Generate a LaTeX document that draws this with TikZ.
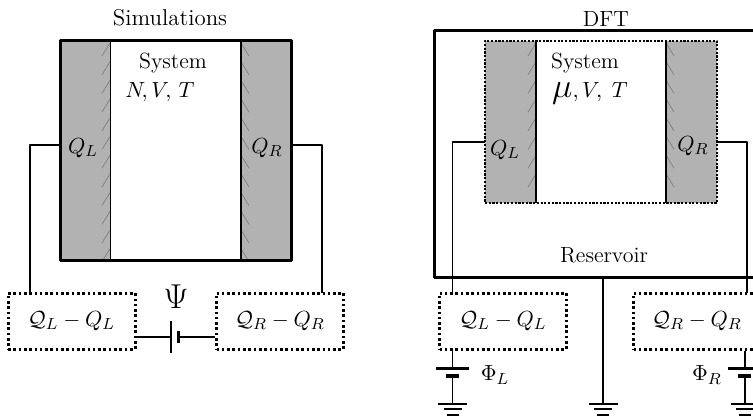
\documentclass[tikz,border=0pt]{standalone}
\tikzset{
	wall/.style={fill=black!30,draw=none},
	hatch/.style={draw=black!50,line width=0.35pt},
	dotbox/.style={draw,line width=1.5pt,dash pattern=on 1.3pt off 1.35pt,minimum width=63.5pt,minimum height=28pt,inner sep=0pt},
	wire/.style={line width=0.6pt},
	plate/.style={line width=1.4pt},
	plainlabel/.style={inner sep=0pt,font=\fontsize{11}{13}\selectfont},
	bigsym/.style={inner sep=0pt,font=\fontsize{17}{19}\selectfont},
}
\begin{document}
\begin{tikzpicture}[x=0.5pt,y=-0.5pt,line join=round]
	\clip (0,0) rectangle (753,416);
	\fill[white] (0,0) rectangle (753,416);
	% left picture
	\fill[wall] (60,41) rectangle (110.5,261);
	\fill[wall] (241,41) rectangle (291,261);
	\foreach \y in {43,61.7,...,250} {
		\draw[hatch] (102,\y+13)--(110,\y);
		\draw[hatch] (241,\y)--(249,\y+13);
	}
	\draw[line width=0.8pt] (110.5,41)--(110.5,261) (241,41)--(241,261);
	\node[draw,line width=1.5pt,minimum width=115.5pt,minimum height=110pt,inner sep=0pt] (simbox) at (175.5,151) {};
	\node[plainlabel,scale=1.04,transform shape] (simtitle) at (170,18) {Simulations};
	\node[plainlabel] (simsystem) at (173,63) {System};
	\node[plainlabel] (simvars) at (160,92) {$N\!,V\!,\,T$};
	\node[plainlabel] (simQL) at (83,148) {$Q_L$};
	\node[plainlabel] (simQR) at (267,148) {$Q_R$};
	\node[dotbox,plainlabel] (simboxL) at (71.5,321) {$\mathcal{Q}_L-Q_L$};
	\node[dotbox,plainlabel] (simboxR) at (280,321) {$\mathcal{Q}_R-Q_R$};
	\node[bigsym] (psi) at (176,297) {$\Psi$};
	\coordinate (portSL) at (60,145);
	\coordinate (portSR) at (291,145);
	\coordinate (tapSL) at (30,293);
	\coordinate (tapSR) at (322,293);
	\coordinate (battA) at (171,337);
	\coordinate (battB) at (178.5,337);
	\draw[wire] (portSL)-|(tapSL);
	\draw[wire] (portSR)-|(tapSR);
	\draw[wire] (simboxL.east |- battA)--(battA);
	\draw[wire] (simboxR.west |- battB)--(battB);
	\draw[plate] (171,321)--(171,353);
	\draw[plate,line width=1.8pt] (178.5,331)--(178.5,343);
	% right picture
	\node[draw,line width=1.5pt,minimum width=200pt,minimum height=123pt,inner sep=0pt] (reservoir) at (634,154) {};
	\fill[wall] (485,41) rectangle (536,203);
	\fill[wall] (666,41) rectangle (717,203);
	\foreach \y in {43,61.7,...,190} {
		\draw[hatch] (528,\y+13)--(536,\y);
		\draw[hatch] (666,\y)--(674,\y+13);
	}
	\draw[line width=0.8pt] (536,41)--(536,203) (666,41)--(666,203);
	\node[draw,line width=1.1pt,dash pattern=on 1.1pt off 0.75pt,minimum width=116pt,minimum height=81pt,inner sep=0pt] (dftbox) at (601,122) {};
	\node[plainlabel] (dfttitle) at (606,19) {DFT};
	\node[plainlabel] (dftsystem) at (585,63) {System};
	\node[plainlabel] (dftvars) at (590,93) {$\mbox{\fontsize{17}{19}\selectfont$\mu$},V\!,\;T$};
	\node[plainlabel] (dftQL) at (505,150) {$Q_L$};
	\node[plainlabel] (dftQR) at (693,146) {$Q_R$};
	\node[plainlabel] (reslabel) at (604,255) {Reservoir};
	\node[dotbox,plainlabel] (dftboxL) at (503,321) {$\mathcal{Q}_L-Q_L$};
	\node[dotbox,plainlabel] (dftboxR) at (697,321) {$\mathcal{Q}_R-Q_R$};
	\node[plainlabel] (phiL) at (495,375) {$\Phi_L$};
	\node[plainlabel] (phiR) at (707,375) {$\Phi_R$};
	\coordinate (portDL) at (485,142);
	\coordinate (portDR) at (717,142);
	\coordinate (tapDL) at (452.5,293);
	\coordinate (tapDR) at (747,293);
	\coordinate (resfoot) at (603,277);
	\coordinate (gndM) at (603,404);
	\coordinate (gndL) at (452.5,404);
	\coordinate (gndR) at (745,404);
	\draw[wire] (portDL)-|(tapDL);
	\draw[wire] (portDR)-|(tapDR);
	\draw[wire] (resfoot)--(gndM);
	\draw[wire] (tapDL |- dftboxL.south)--(452.5,368);
	\draw[wire] (452.5,376)--(gndL);
	\draw[wire] (gndR |- dftboxR.south)--(745,368);
	\draw[wire] (745,376)--(gndR);
	\draw[plate] (436,368.5)--(469,368.5);
	\draw[plate,line width=1.8pt] (446,376)--(459,376);
	\draw[plate] (728,368.5)--(761,368.5);
	\draw[plate,line width=1.8pt] (738,376)--(751,376);
	\foreach \g in {gndL,gndM,gndR} {
		\draw[wire] ([xshift=-7.25pt]\g)--([xshift=7.25pt]\g);
		\draw[wire] ([xshift=-4.5pt,yshift=-2.5pt]\g)--([xshift=4.5pt,yshift=-2.5pt]\g);
		\draw[line width=1pt] ([xshift=-3pt,yshift=-5.5pt]\g)--([xshift=3pt,yshift=-5.5pt]\g);
	}
\end{tikzpicture}
\end{document}
